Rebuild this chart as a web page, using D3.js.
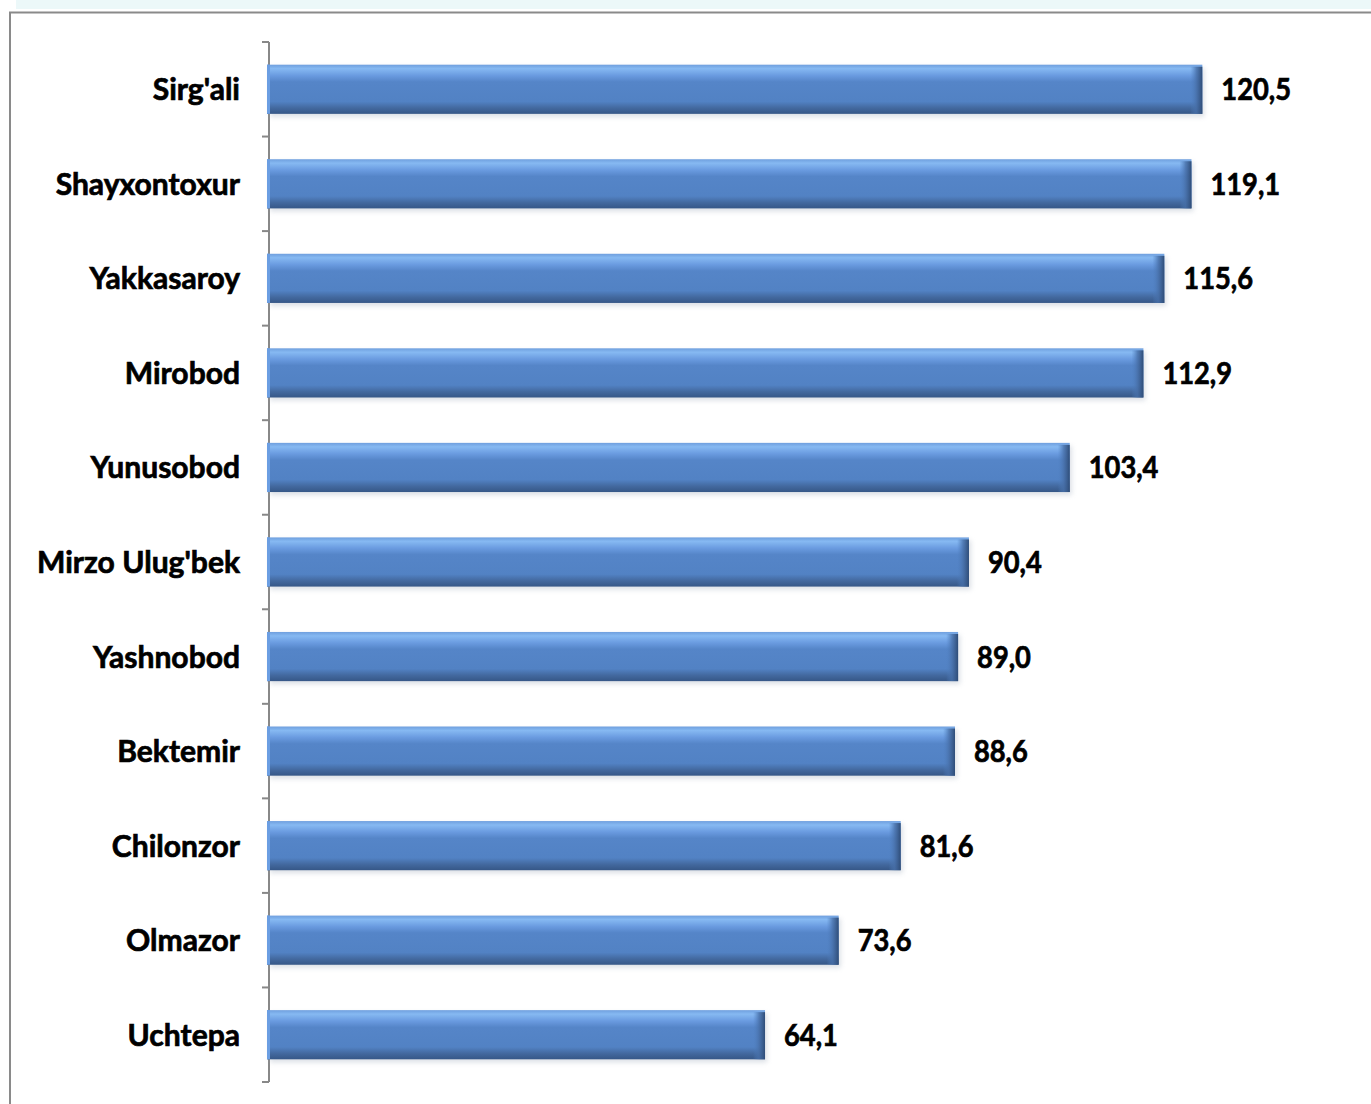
<!DOCTYPE html>
<html>
<head>
<meta charset="utf-8">
<script src="https://cdn.jsdelivr.net/npm/d3@7"></script>
<style>
  body { margin: 0; background: #fff; }
  svg { display: block; }
</style>
</head>
<body>
<div id="chart"></div>
<script>
// donnees
const districts = ["Sirg'ali", "Shayxontoxur", "Yakkasaroy", "Mirobod", "Yunusobod",
  "Mirzo Ulug'bek", "Yashnobod", "Bektemir", "Chilonzor", "Olmazor", "Uchtepa"];
const values = [120.5, 119.1, 115.6, 112.9, 103.4, 90.4, 89.0, 88.6, 81.6, 73.6, 64.1];
const valueLabels = ["120,5", "119,1", "115,6", "112,9", "103,4", "90,4", "89,0", "88,6", "81,6", "73,6", "64,1"];

const width = 1371, height = 1104;
const plot = { left: 268, top: 42, bottom: 1082 };

const svg = d3.select("#chart").append("svg")
  .attr("width", width)
  .attr("height", height);

const defs = svg.append("defs");

const grad = defs.append("linearGradient")
  .attr("id", "barGrad").attr("x1", 0).attr("y1", 0).attr("x2", 0).attr("y2", 1);
[[0, "#6f9fde"], [0.08, "#86b9f2"], [0.22, "#6a9be0"], [0.35, "#5585c8"],
 [0.75, "#5282c4"], [0.88, "#43699f"], [1, "#365787"]]
  .forEach(([o, c]) => grad.append("stop").attr("offset", o).attr("stop-color", c));

const capGrad = defs.append("linearGradient")
  .attr("id", "capGrad").attr("x1", 0).attr("y1", 0).attr("x2", 1).attr("y2", 0);
[[0, "#4f7fc0", 0], [0.5, "#476fa8", 0.8], [1, "#2f4d78", 1]]
  .forEach(([o, c, a]) => capGrad.append("stop").attr("offset", o).attr("stop-color", c).attr("stop-opacity", a));

const blur = defs.append("filter").attr("id", "shadow")
  .attr("x", "-5%").attr("y", "-30%").attr("width", "110%").attr("height", "160%");
blur.append("feGaussianBlur").attr("stdDeviation", 2.5);

// bandeau clair en haut et cadre
svg.append("rect")
  .attr("x", 16).attr("y", 0).attr("width", width - 16).attr("height", 9)
  .attr("fill", "#ecf8f9");
svg.append("rect")
  .attr("x", 10).attr("y", 12.5).attr("width", width + 20).attr("height", height + 20)
  .attr("fill", "#fff").attr("stroke", "#8a8a8a").attr("stroke-width", 2);

const x = d3.scaleLinear().domain([0, 130]).range([plot.left, 1276]);
const y = d3.scaleBand().domain(districts).range([plot.top, plot.bottom]).paddingInner(0.48).paddingOuter(0.24);

// axe vertical avec graduations entre les categories
const step = y.step();
const tickPos = d3.range(districts.length + 1).map((i) => plot.top + i * step);
const axis = svg.append("g");
axis.append("line")
  .attr("x1", plot.left + 1).attr("x2", plot.left + 1)
  .attr("y1", plot.top).attr("y2", plot.bottom)
  .attr("stroke", "#888").attr("stroke-width", 2);
axis.selectAll("line.tick")
  .data(tickPos)
  .join("line")
  .attr("class", "tick")
  .attr("x1", plot.left - 6).attr("x2", plot.left + 1)
  .attr("y1", (d) => d).attr("y2", (d) => d)
  .attr("stroke", "#888").attr("stroke-width", 2);

const bars = svg.append("g")
  .selectAll("g")
  .data(districts)
  .join("g");

bars.append("rect")
  .attr("x", x(0) + 2)
  .attr("y", (d) => y(d) + 3)
  .attr("width", (d, i) => x(values[i]) - x(0))
  .attr("height", y.bandwidth())
  .attr("fill", "#9aa6b8")
  .attr("opacity", 0.35)
  .attr("filter", "url(#shadow)");

bars.append("rect")
  .attr("x", x(0) - 1)
  .attr("y", (d) => y(d))
  .attr("width", (d, i) => x(values[i]) - x(0) + 1)
  .attr("height", y.bandwidth())
  .attr("fill", "url(#barGrad)");

bars.append("rect")
  .attr("x", (d, i) => x(values[i]) - 12)
  .attr("y", (d) => y(d) + 2)
  .attr("width", 12)
  .attr("height", y.bandwidth() - 2)
  .attr("fill", "url(#capGrad)");

bars.append("rect")
  .attr("x", x(0) - 1)
  .attr("y", (d) => y(d))
  .attr("width", 3)
  .attr("height", y.bandwidth())
  .attr("fill", "#6b9ee2");

const textStyle = (sel) => sel
  .style("font-family", "Lato, 'DejaVu Sans', sans-serif")
  .style("font-weight", "bold")
  .style("font-size", "31px")
  .attr("fill", "#000")
  .attr("stroke", "#000")
  .attr("stroke-width", 0.7);

// noms des districts
svg.append("g")
  .selectAll("text")
  .data(districts)
  .join("text")
  .attr("transform", (d) => `translate(240, ${y(d) + y.bandwidth() / 2 + 11}) scale(0.97, 1)`)
  .attr("text-anchor", "end")
  .text((d) => d)
  .call(textStyle);

// etiquettes de valeurs
svg.append("g")
  .selectAll("text")
  .data(districts)
  .join("text")
  .attr("transform", (d, i) => `translate(${x(values[i]) + 19}, ${y(d) + y.bandwidth() / 2 + 11}) scale(0.88, 1)`)
  .text((d, i) => valueLabels[i])
  .call(textStyle);
</script>
</body>
</html>
